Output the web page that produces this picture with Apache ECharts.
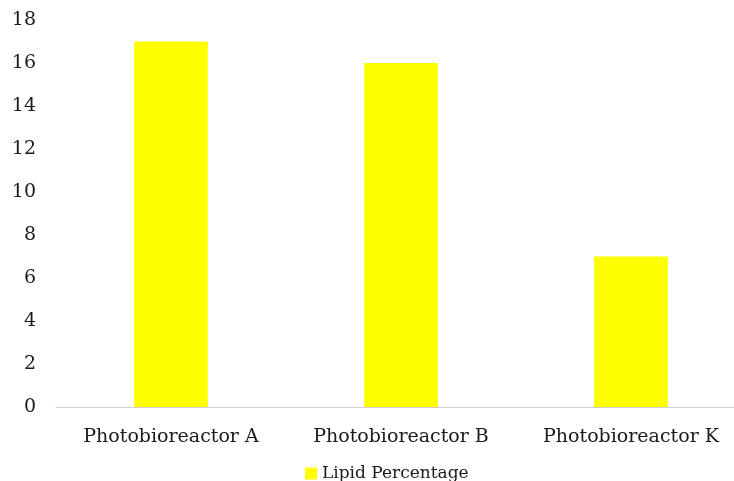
<!DOCTYPE html>
<html>
<head>
<meta charset="utf-8">
<style>
  html, body { margin: 0; padding: 0; background: #fff; }
  #chart { width: 734px; height: 481px; }
</style>
<script src="https://cdn.jsdelivr.net/npm/echarts@6/dist/echarts.min.js"></script>
</head>
<body>
<div id="chart"></div>
<script>
const categories = ['Photobioreactor A', 'Photobioreactor B', 'Photobioreactor K'];
const lipidPercentage = [17, 16, 7];
const seriesName = 'Lipid Percentage';

const FONT = 'DejaVu Serif';
const chart = echarts.init(document.getElementById('chart'), null, { renderer: 'canvas' });
chart.setOption({
  animation: false,
  textStyle: { fontFamily: FONT },
  grid: {
    left: 56, width: 690, top: 20, height: 387,
    containLabel: false,
    outerBoundsMode: 'none'
  },
  legend: {
    top: 460,
    left: 300,
    itemWidth: 12,
    itemHeight: 12,
    itemGap: 6,
    icon: 'rect',
    textStyle: { fontFamily: FONT, fontSize: 17, color: '#1a1a1a' },
    data: [seriesName]
  },
  xAxis: {
    type: 'category',
    data: categories,
    axisLine: { lineStyle: { color: '#d0d0d0', width: 1 } },
    axisTick: { show: false },
    axisLabel: { interval: 0, hideOverlap: false, fontFamily: FONT, fontSize: 19, color: '#1a1a1a', margin: 21 }
  },
  yAxis: {
    type: 'value',
    min: 0,
    max: 18,
    interval: 2,
    splitLine: { show: false },
    axisLine: { show: false },
    axisTick: { show: false },
    axisLabel: { fontFamily: FONT, fontSize: 19, color: '#1a1a1a', margin: 20 }
  },
  series: [{
    name: seriesName,
    type: 'bar',
    data: lipidPercentage,
    barWidth: '32%',
    itemStyle: { color: '#ffff00' }
  }]
});
</script>
</body>
</html>
